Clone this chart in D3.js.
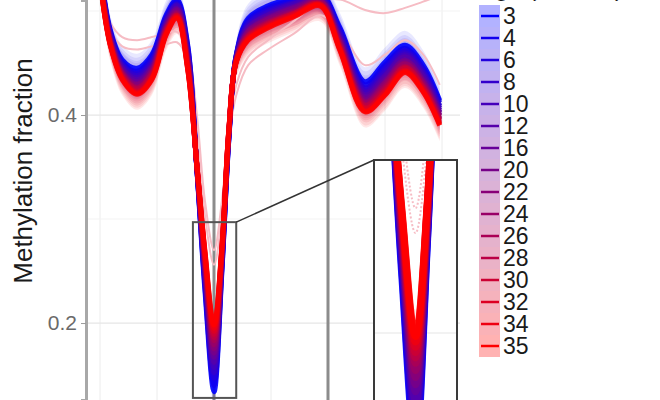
<!DOCTYPE html>
<html><head><meta charset="utf-8">
<script src="https://cdn.jsdelivr.net/npm/d3@7"></script>
<style>body{margin:0;background:#fff} svg{display:block;font-family:"Liberation Sans",Arial,sans-serif}</style>
</head><body>
<svg id="chart" width="660" height="400"></svg>
<script>
// ---- data ----
const positions = [0.02,0.18,0.39,0.65,0.91,1.16,1.35,1.54,1.70,1.84,2.00,2.14,2.26,2.39,2.60,2.95,3.42,3.86,4.21,4.65,5.00,5.35,5.67,5.96];
const ageLabels = ["3","4","6","8","10","12","16","20","22","24","26","28","30","32","34","35"];
const age3  = [0.535,0.482,0.453,0.445,0.458,0.496,0.511,0.467,0.347,0.232,0.134,0.251,0.376,0.458,0.493,0.505,0.513,0.518,0.484,0.432,0.451,0.467,0.448,0.414];
const age4  = [0.533,0.480,0.451,0.442,0.456,0.494,0.509,0.465,0.348,0.236,0.140,0.253,0.377,0.457,0.491,0.503,0.511,0.517,0.482,0.429,0.448,0.464,0.445,0.412];
const age6  = [0.532,0.479,0.449,0.440,0.453,0.492,0.507,0.462,0.348,0.240,0.147,0.256,0.378,0.457,0.489,0.501,0.509,0.515,0.480,0.426,0.445,0.462,0.443,0.409];
const age8  = [0.531,0.478,0.448,0.438,0.451,0.491,0.506,0.460,0.348,0.243,0.152,0.258,0.379,0.456,0.487,0.499,0.508,0.514,0.478,0.424,0.442,0.460,0.441,0.407];
const age10 = [0.530,0.477,0.446,0.436,0.449,0.489,0.505,0.458,0.349,0.246,0.157,0.260,0.380,0.455,0.485,0.497,0.507,0.513,0.476,0.422,0.439,0.458,0.439,0.405];
const age12 = [0.528,0.475,0.445,0.434,0.447,0.488,0.503,0.456,0.349,0.249,0.162,0.262,0.380,0.455,0.484,0.496,0.505,0.512,0.474,0.419,0.437,0.456,0.437,0.403];
const age16 = [0.527,0.474,0.443,0.432,0.446,0.486,0.502,0.455,0.350,0.252,0.167,0.263,0.381,0.454,0.482,0.494,0.504,0.511,0.473,0.417,0.434,0.453,0.434,0.402];
const age20 = [0.526,0.473,0.442,0.430,0.444,0.485,0.501,0.453,0.350,0.254,0.171,0.265,0.382,0.454,0.481,0.493,0.503,0.510,0.471,0.415,0.432,0.452,0.433,0.400];
const age22 = [0.525,0.472,0.441,0.429,0.443,0.484,0.499,0.452,0.350,0.256,0.175,0.266,0.382,0.454,0.480,0.492,0.501,0.510,0.470,0.413,0.431,0.450,0.431,0.399];
const age24 = [0.524,0.471,0.440,0.427,0.441,0.483,0.498,0.450,0.351,0.259,0.179,0.268,0.383,0.453,0.478,0.490,0.500,0.509,0.469,0.412,0.429,0.449,0.430,0.397];
const age26 = [0.524,0.471,0.439,0.426,0.440,0.482,0.497,0.449,0.351,0.261,0.183,0.269,0.384,0.453,0.477,0.489,0.499,0.508,0.467,0.410,0.427,0.447,0.428,0.396];
const age28 = [0.523,0.470,0.438,0.425,0.439,0.481,0.496,0.448,0.351,0.263,0.186,0.270,0.384,0.452,0.476,0.488,0.498,0.507,0.466,0.409,0.425,0.446,0.427,0.395];
const age30 = [0.522,0.469,0.437,0.423,0.437,0.480,0.496,0.446,0.351,0.265,0.189,0.272,0.385,0.452,0.475,0.487,0.498,0.507,0.465,0.407,0.423,0.445,0.426,0.393];
const age32 = [0.521,0.468,0.436,0.422,0.436,0.479,0.495,0.445,0.352,0.267,0.192,0.273,0.385,0.452,0.474,0.486,0.497,0.506,0.464,0.406,0.422,0.443,0.424,0.392];
const age34 = [0.521,0.468,0.435,0.421,0.435,0.478,0.494,0.444,0.352,0.268,0.195,0.274,0.386,0.451,0.473,0.485,0.496,0.506,0.463,0.404,0.420,0.442,0.423,0.391];
const age35 = [0.520,0.467,0.434,0.420,0.434,0.477,0.493,0.443,0.352,0.270,0.198,0.275,0.386,0.451,0.472,0.484,0.495,0.505,0.462,0.403,0.419,0.441,0.422,0.390];
const seriesValues = [age3,age4,age6,age8,age10,age12,age16,age20,age22,age24,age26,age28,age30,age32,age34,age35];
const seriesSE = [0.014,0.013,0.012,0.012,0.011,0.011,0.011,0.011,0.011,0.011,0.011,0.012,0.012,0.013,0.014,0.015];
// faint confidence bounds
const ciBoundA = [0.520,0.489,0.475,0.472,0.475,0.479,0.480,0.463,0.400,0.318,0.270,0.318,0.386,0.429,0.456,0.472,0.491,0.509,0.511,0.501,0.498,0.503,0.509,0.515];
const ciBoundB = [0.511,0.482,0.466,0.463,0.466,0.468,0.470,0.453,0.390,0.304,0.256,0.304,0.376,0.419,0.448,0.463,0.479,0.496,0.482,0.448,0.458,0.472,0.458,0.429];
const xGridValues = [0,1,2,3,4,5,6];
const markerPositions = [2,4];
const yMajorTicks = [0.2,0.4];
const yMinorTicks = [0.3,0.5];
const zoomBox = {x0:1.63, x1:2.39, v0:0.128, v1:0.297};
const insetXDomain = [1.515,2.485];
const insetYDomain = [0.2,0.297];

// ---- drawing ----
const svg = d3.select("#chart");
const x = d3.scaleLinear().domain([0,6]).range([100,442]);
const y = d3.scaleLinear().domain([0.126,0.5106]).range([400,0]);
const colorOf = i => d3.interpolateRgb("#0000ff","#ff0000")(i/(ageLabels.length-1));
const curve = d3.curveCatmullRom.alpha(0.5);

const defs = svg.append("defs");
defs.append("clipPath").attr("id","mainClip").append("rect").attr("x",87.5).attr("y",0).attr("width",372).attr("height",400);

// grid
const grid = svg.append("g");
grid.selectAll(".gx").data(xGridValues).join("line")
  .attr("x1",d=>x(d)).attr("x2",d=>x(d)).attr("y1",0).attr("y2",400)
  .attr("stroke","#ececec").attr("stroke-width",1);
grid.selectAll(".gy").data(yMinorTicks).join("line")
  .attr("x1",86).attr("x2",460).attr("y1",d=>y(d)).attr("y2",d=>y(d))
  .attr("stroke","#f3f3f3").attr("stroke-width",1);
grid.selectAll(".gy2").data(yMajorTicks).join("line")
  .attr("x1",86).attr("x2",460).attr("y1",d=>y(d)).attr("y2",d=>y(d))
  .attr("stroke","#e6e6e6").attr("stroke-width",1.2);
grid.selectAll(".mk").data(markerPositions).join("line")
  .attr("x1",d=>x(d)).attr("x2",d=>x(d)).attr("y1",0).attr("y2",400)
  .attr("stroke","#8c8c8c").attr("stroke-width",3);

function drawCurves(g, xs, ys, lw, dashFaint){
  const area = d3.area().curve(curve).x((d,j)=>xs(positions[j]));
  const line = d3.line().curve(curve).x((d,j)=>xs(positions[j])).y(d=>ys(d));
  seriesValues.forEach((vals,i)=>{
    g.append("path").datum(vals)
      .attr("d", area.y0(d=>ys(d-seriesSE[i])).y1(d=>ys(d+seriesSE[i])))
      .attr("fill", colorOf(i)).attr("fill-opacity",0.09).attr("stroke","none");
  });
  [ciBoundA, ciBoundB].forEach(vals=>{
    g.append("path").datum(vals).attr("d",line).attr("fill","none")
      .attr("stroke","#f6bcc4").attr("stroke-width",2)
      .attr("stroke-dasharray", dashFaint ? "2,2" : null);
  });
  seriesValues.forEach((vals,i)=>{
    g.append("path").datum(vals).attr("d",line).attr("fill","none")
      .attr("stroke",colorOf(i)).attr("stroke-width",lw)
      .attr("stroke-linejoin","round").attr("stroke-opacity",0.9);
  });
}

const main = svg.append("g").attr("clip-path","url(#mainClip)");
drawCurves(main, x, y, 5, false);

// y axis
const yAxis = svg.append("g").attr("transform","translate(86,0)")
  .call(d3.axisLeft(y).tickValues(yMajorTicks).tickFormat(d3.format(".1f")).tickSize(5).tickPadding(4));
yAxis.select(".domain").attr("stroke","#a8a8a8").attr("stroke-width",3);
yAxis.selectAll(".tick line").attr("stroke","#9a9a9a");
yAxis.selectAll(".tick text").attr("fill","#6a6a6a").style("font-size","21px").style("font-family","'Liberation Sans',Arial,sans-serif");

svg.append("text").attr("transform","translate(32,171) rotate(-90)")
  .attr("text-anchor","middle").style("font-size","26px").attr("fill","#1a1a1a")
  .text("Methylation fraction");

// zoom box + connector
const bx0 = x(zoomBox.x0), bx1 = x(zoomBox.x1), by0 = y(zoomBox.v1), by1 = y(zoomBox.v0);
svg.append("rect").attr("x",bx0).attr("y",by0).attr("width",bx1-bx0).attr("height",by1-by0)
  .attr("fill","none").attr("stroke","#555").attr("stroke-width",2);

// inset
const xi = d3.scaleLinear().domain(insetXDomain).range([374,457]);
const yi = d3.scaleLinear().domain(insetYDomain).range([333,160]);
svg.append("line").attr("x1",bx1).attr("y1",by0).attr("x2",xi.range()[0]).attr("y2",yi(insetYDomain[1]))
  .attr("stroke","#333").attr("stroke-width",1.5);
defs.append("clipPath").attr("id","insetClip").append("rect")
  .attr("x",374).attr("y",160).attr("width",83).attr("height",260);
svg.append("rect").attr("x",374).attr("y",160).attr("width",83).attr("height",260).attr("fill","#fff");
const inset = svg.append("g").attr("clip-path","url(#insetClip)");
inset.append("line").attr("x1",374).attr("x2",457).attr("y1",yi(0.2)).attr("y2",yi(0.2))
  .attr("stroke","#e6e6e6").attr("stroke-width",1.2);
drawCurves(inset, xi, yi, 7, true);
svg.append("rect").attr("x",374).attr("y",160).attr("width",83).attr("height",260)
  .attr("fill","none").attr("stroke","#3a3a3a").attr("stroke-width",2);

// legend
const lg = svg.append("g");
lg.append("text").attr("x",479).attr("y",-4).style("font-size","24px").attr("fill","#1a1a1a").text("Age (months)");
ageLabels.forEach((lab,i)=>{
  const ky = 5 + 22*i;
  lg.append("rect").attr("x",479).attr("y",ky).attr("width",21).attr("height",22)
    .attr("fill",colorOf(i)).attr("fill-opacity",0.3);
  lg.append("line").attr("x1",481).attr("x2",499).attr("y1",ky+11).attr("y2",ky+11)
    .attr("stroke",colorOf(i)).attr("stroke-width",2.5);
  lg.append("text").attr("x",503).attr("y",ky+11).attr("dy","0.36em")
    .style("font-size","23px").attr("fill","#1a1a1a").text(lab);
});
</script>
</body></html>
